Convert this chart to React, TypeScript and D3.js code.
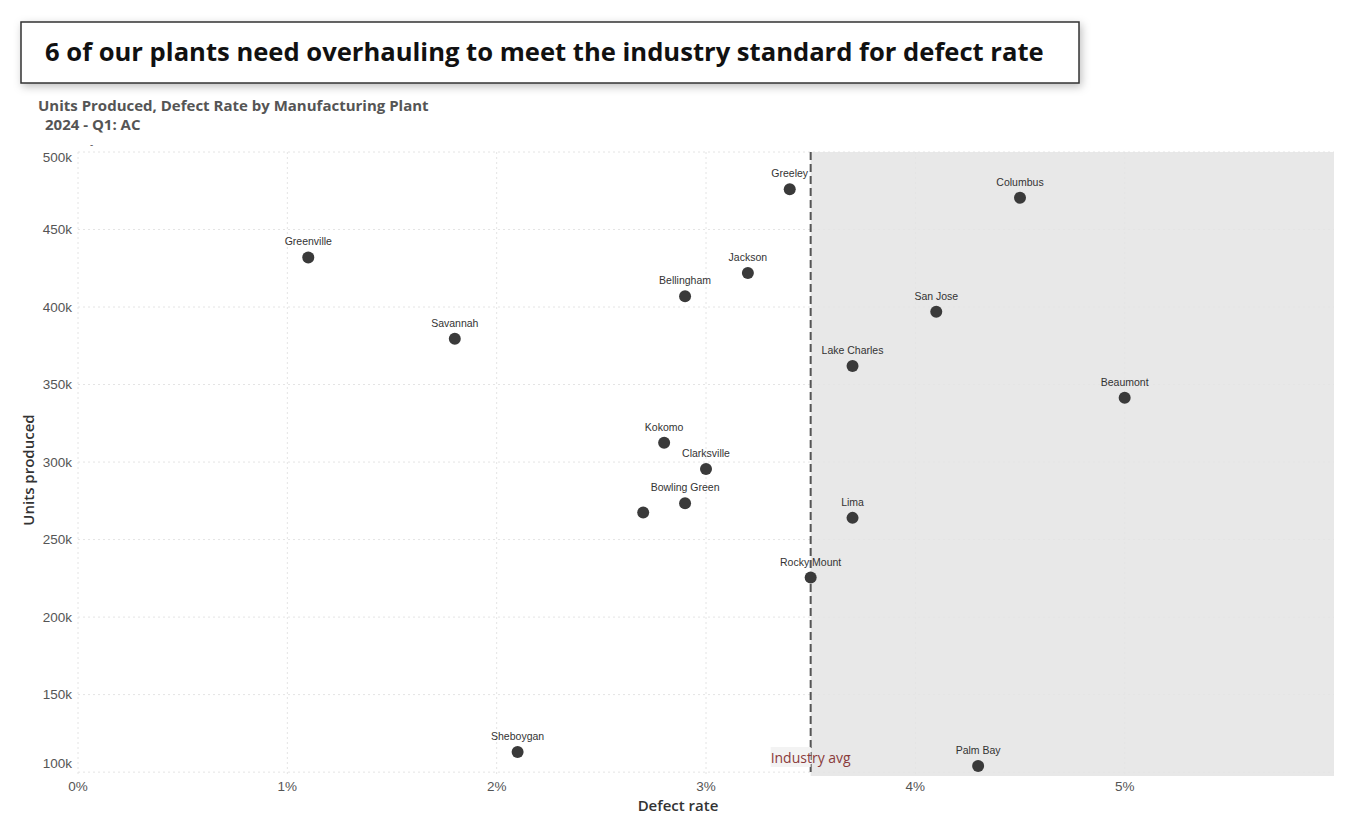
import React from "react";
import * as d3 from "d3";

const plants = ["Greenville","Savannah","Sheboygan","Bellingham","Jackson","Greeley","Kokomo","Clarksville","Bowling Green","","Rocky Mount","Lima","Lake Charles","San Jose","Columbus","Beaumont","Palm Bay"];
const defectRate = [0.011,0.018,0.021,0.029,0.032,0.034,0.028,0.030,0.029,0.027,0.035,0.037,0.037,0.041,0.045,0.050,0.043];
const unitsProduced = [432000,379500,113000,407000,422000,476000,312500,295500,273500,267500,225500,264000,362000,397000,470500,341500,104000];
const xTicks = [0,0.01,0.02,0.03,0.04,0.05];
const yTicks = [100000,150000,200000,250000,300000,350000,400000,450000,500000];
const industryAvg = 0.035;

const W = 1356, H = 831;
const left = 78, right = 1334, top = 152, bottom = 776;

export default function App() {
  const x = d3.scaleLinear().domain([0, 0.06]).range([left, right]);
  const y = d3.scaleLinear().domain([97500, 500000]).range([bottom, top]);
  const fmtY = (v: number) => `${v / 1000}k`;
  const fmtX = d3.format(".0%");
  const tickFont = "'Liberation Sans', Arial, sans-serif";
  const uiFont = "'Open Sans', 'Noto Sans', sans-serif";
  return (
    <svg width={W} height={H} style={{ position: "absolute", left: 0, top: 0, background: "#fff" }}>
      <defs>
        <filter id="sh" x="-5%" y="-30%" width="110%" height="170%">
          <feDropShadow dx="2" dy="3" stdDeviation="4" floodColor="#000" floodOpacity="0.25" />
        </filter>
      </defs>
      <rect x={21} y={22} width={1058} height={61} fill="#fff" stroke="#333" strokeWidth={1.5} filter="url(#sh)" />
      <text x={45} y={61} fontFamily={uiFont} fontWeight={700} fontSize={25.6} fill="#111">
        6 of our plants need overhauling to meet the industry standard for defect rate
      </text>
      <text x={38} y={111} fontFamily={uiFont} fontWeight={700} fontSize={15} fill="#555">
        Units Produced, Defect Rate by Manufacturing Plant
      </text>
      <text x={45} y={130} fontFamily={uiFont} fontWeight={700} fontSize={15} fill="#555">
        2024 - Q1: AC
      </text>
      <text x={90} y={148} fontFamily={uiFont} fontSize={10} fill="#555">-</text>

      {/* shaded region */}
      <rect x={x(industryAvg)} y={top} width={right - x(industryAvg)} height={bottom - top} fill="#e8e8e8" />

      {/* gridlines */}
      {yTicks.map((t) => (
        <line key={"gy" + t} x1={left} x2={right} y1={y(t)} y2={y(t)} stroke="#e4e4e4" strokeDasharray="2,3" strokeWidth={1} />
      ))}
      {xTicks.map((t) => (
        <line key={"gx" + t} x1={x(t)} x2={x(t)} y1={top} y2={bottom} stroke="#e4e4e4" strokeDasharray="2,3" strokeWidth={1} />
      ))}

      {/* y tick labels */}
      {yTicks.map((t) => {
        let yy = y(t) + 4.5;
        if (t === 500000) yy = y(t) + 10;
        if (t === 100000) yy = y(t) - 4;
        return (
          <text key={"ty" + t} x={72} y={yy} textAnchor="end" fontFamily={tickFont} fontSize={13.5} fill="#555">
            {fmtY(t)}
          </text>
        );
      })}
      {xTicks.map((t) => (
        <text key={"tx" + t} x={x(t)} y={791} textAnchor="middle" fontFamily={tickFont} fontSize={13.5} fill="#555">
          {fmtX(t)}
        </text>
      ))}

      <text x={678} y={811} textAnchor="middle" fontFamily={uiFont} fontWeight={600} fontSize={15} fill="#333">
        Defect rate
      </text>
      <text transform={`translate(34,${470}) rotate(-90)`} textAnchor="middle" fontFamily={uiFont} fontWeight={600} fontSize={15} fill="#333">
        Units produced
      </text>

      {/* industry avg line */}
      <line x1={x(industryAvg)} x2={x(industryAvg)} y1={top} y2={bottom} stroke="#555" strokeWidth={2} strokeDasharray="8,4" />
      <rect x={x(industryAvg) - 40} y={747} width={40} height={20} fill="#f3f3f3" />
      <text x={x(industryAvg)} y={763} textAnchor="middle" fontFamily={uiFont} fontSize={14} fill="#8a3b3b">
        Industry avg
      </text>

      {/* points */}
      {plants.map((p, i) => (
        <g key={"p" + i}>
          <circle cx={x(defectRate[i])} cy={y(unitsProduced[i])} r={6} fill="#3a3a3a" />
          {p && (
            <text x={x(defectRate[i])} y={y(unitsProduced[i]) - 12} textAnchor="middle" fontFamily={tickFont} fontSize={10.5} fill="#333">
              {p}
            </text>
          )}
        </g>
      ))}
    </svg>
  );
}
